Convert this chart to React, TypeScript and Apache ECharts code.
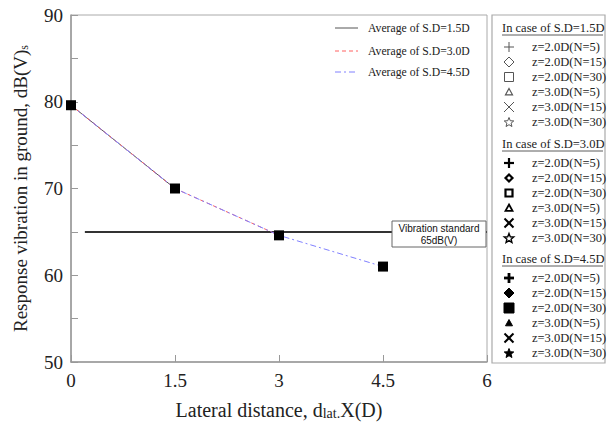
import React, { useEffect, useRef } from "react";
import * as echarts from "echarts";

const xValues = [0, 1.5, 3, 4.5];
const avg15 = [79.6, 70];
const avg30 = [79.6, 70, 64.6];
const avg45 = [79.6, 70, 64.6, 61];
const measured = [79.6, 70, 64.6, 61];
const standardLevel = 65;
const standardRange = [0.2, 6];
const seriesNames = ["Average of S.D=1.5D", "Average of S.D=3.0D", "Average of S.D=4.5D"];
const groupTitles = ["In case of S.D=1.5D", "In case of S.D=3.0D", "In case of S.D=4.5D"];
const caseLabels = ["z=2.0D(N=5)", "z=2.0D(N=15)", "z=2.0D(N=30)", "z=3.0D(N=5)", "z=3.0D(N=15)", "z=3.0D(N=30)"];
const xTicks = [0, 1.5, 3, 4.5, 6];
const yTicks = [50, 60, 70, 80, 90];

const SERIF = "'Liberation Serif', 'Times New Roman', serif";
const SANS = "'Liberation Sans', Arial, sans-serif";

function pairs(ys: number[]) {
  return ys.map((y, i) => [xValues[i], y]);
}

function starPts(cx: number, cy: number, R: number, r: number) {
  const pts: number[][] = [];
  for (let i = 0; i < 10; i++) {
    const a = -Math.PI / 2 + (i * Math.PI) / 5;
    const rad = i % 2 === 0 ? R : r;
    pts.push([cx + rad * Math.cos(a), cy + rad * Math.sin(a)]);
  }
  return pts;
}

function marker(kind: number, g: number, cx: number, cy: number): any[] {
  const col = g === 0 ? "#555" : "#000";
  const filled = g === 2;
  const lw = g === 0 ? 1 : g === 1 ? 2.2 : 2.8;
  const outline = { stroke: col, lineWidth: lw, fill: "none" };
  const solid = { fill: col, stroke: col, lineWidth: 1 };
  const st = filled ? solid : outline;
  switch (kind) {
    case 0: {
      const s = 5;
      return [
        { type: "line", shape: { x1: cx - s, y1: cy, x2: cx + s, y2: cy }, style: { stroke: col, lineWidth: lw } },
        { type: "line", shape: { x1: cx, y1: cy - s, x2: cx, y2: cy + s }, style: { stroke: col, lineWidth: lw } },
      ];
    }
    case 1: {
      const s = g === 0 ? 5 : g === 1 ? 3.5 : 5;
      return [{ type: "polygon", shape: { points: [[cx, cy - s], [cx + s, cy], [cx, cy + s], [cx - s, cy]] }, style: st }];
    }
    case 2: {
      const s = g === 0 ? 4.5 : g === 1 ? 3.5 : 5;
      return [{ type: "rect", shape: { x: cx - s, y: cy - s, width: 2 * s, height: 2 * s }, style: st }];
    }
    case 3: {
      const s = 3.5;
      return [{ type: "polygon", shape: { points: [[cx, cy - s], [cx + s, cy + s * 0.8], [cx - s, cy + s * 0.8]] }, style: filled ? solid : { stroke: col, lineWidth: g === 0 ? 1.2 : 1.8, fill: "none" } }];
    }
    case 4: {
      const s = g === 0 ? 5 : 4.5;
      return [
        { type: "line", shape: { x1: cx - s, y1: cy - s, x2: cx + s, y2: cy + s }, style: { stroke: col, lineWidth: g === 0 ? 1 : 2 } },
        { type: "line", shape: { x1: cx - s, y1: cy + s, x2: cx + s, y2: cy - s }, style: { stroke: col, lineWidth: g === 0 ? 1 : 2 } },
      ];
    }
    default: {
      return [{ type: "polygon", shape: { points: starPts(cx, cy + 0.5, 5, 2.2) }, style: filled ? solid : { stroke: col, lineWidth: g === 0 ? 1 : 1.4, fill: "none" } }];
    }
  }
}

function buildGraphics(): any[] {
  const els: any[] = [];
  // left legend
  const lx1 = 335, lx2 = 358, tx = 368;
  const ly = [28, 51, 72];
  const lineStyles = [
    { stroke: "#555", lineWidth: 1 },
    { stroke: "#ff6060", lineWidth: 1, lineDash: [4, 3] },
    { stroke: "#8080ff", lineWidth: 1, lineDash: [6, 3, 2, 3] },
  ];
  seriesNames.forEach((n, i) => {
    els.push({ type: "line", shape: { x1: lx1, y1: ly[i], x2: lx2, y2: ly[i] }, style: lineStyles[i] });
    els.push({ type: "text", x: tx, y: ly[i], style: { text: n, font: `11.7px ${SERIF}`, fill: "#222", verticalAlign: "middle" } });
  });
  // right legend box
  els.push({ type: "rect", shape: { x: 492, y: 15, width: 113, height: 348 }, style: { fill: "#fff", stroke: "#aaa", lineWidth: 1.2 } });
  const headerY = [28, 144, 259];
  groupTitles.forEach((t, g) => {
    els.push({ type: "text", x: 502, y: headerY[g], style: { text: t, font: `12.5px ${SERIF}`, fill: "#222", verticalAlign: "middle" } });
    els.push({ type: "line", shape: { x1: 502, y1: headerY[g] + 7, x2: 603, y2: headerY[g] + 7 }, style: { stroke: "#333", lineWidth: 0.8 } });
    caseLabels.forEach((c, k) => {
      const y = headerY[g] + 19 + 15 * k;
      marker(k, g, 509, y).forEach((e) => els.push(e));
      els.push({ type: "text", x: 532, y, style: { text: c, font: `12.5px ${SERIF}`, fill: "#222", verticalAlign: "middle" } });
    });
  });
  // vibration standard label box
  els.push({ type: "rect", z: 100, shape: { x: 392, y: 221, width: 94, height: 26 }, style: { fill: "#fff", stroke: "#666", lineWidth: 1 } });
  els.push({ type: "text", z: 101, x: 439, y: 228, style: { text: "Vibration standard", font: `10px ${SANS}`, fill: "#111", align: "center", verticalAlign: "middle" } });
  els.push({ type: "text", z: 101, x: 439, y: 240, style: { text: "65dB(V)", font: `10px ${SANS}`, fill: "#111", align: "center", verticalAlign: "middle" } });
  return els;
}

export default function App() {
  const ref = useRef<HTMLDivElement>(null);
  useEffect(() => {
    if (!ref.current) return;
    const chart = echarts.init(ref.current, null, { renderer: "svg" });
    chart.setOption({
      animation: false,
      backgroundColor: "#fff",
      grid: { left: 71, right: 124, top: 15, bottom: 61, show: true, borderColor: "#aaa", borderWidth: 1 },
      xAxis: {
        type: "value",
        min: 0,
        max: 6,
        interval: 1.5,
        name: "Lateral distance, d{sm|lat.}X(D)",
        nameLocation: "middle",
        nameGap: 38,
        nameTextStyle: {
          fontFamily: SERIF,
          fontSize: 20,
          color: "#222",
          rich: { sm: { fontFamily: SERIF, fontSize: 14, color: "#222", verticalAlign: "bottom", padding: [4, 0, 0, 0] } },
        },
        axisLine: { lineStyle: { color: "#999", width: 1.5 } },
        axisTick: { inside: true, length: 7, lineStyle: { color: "#999" } },
        splitLine: { show: false },
        axisLabel: {
          fontFamily: SERIF,
          fontSize: 19,
          color: "#222",
          margin: 9,
          formatter: (v: number) => (xTicks.includes(v) ? String(v) : ""),
        },
      },
      yAxis: {
        type: "value",
        min: 50,
        max: 90,
        interval: 5,
        name: "Response vibration in ground, dB(V){s|s}",
        nameLocation: "middle",
        nameGap: 41,
        nameTextStyle: {
          fontFamily: SERIF,
          fontSize: 19,
          color: "#222",
          rich: { s: { fontFamily: SERIF, fontSize: 12, color: "#222", verticalAlign: "bottom", padding: [6, 0, 0, 0] } },
        },
        axisLine: { show: true, lineStyle: { color: "#999", width: 1.5 } },
        axisTick: { show: true, inside: true, length: 7, lineStyle: { color: "#999" } },
        splitLine: { show: false },
        axisLabel: {
          fontFamily: SERIF,
          fontSize: 19,
          color: "#222",
          margin: 8,
          formatter: (v: number) => (yTicks.includes(v) ? String(v) : ""),
        },
      },
      series: [
        {
          name: "standard",
          type: "line",
          data: standardRange.map((x) => [x, standardLevel]),
          symbol: "none",
          lineStyle: { color: "#333", width: 2 },
          z: 1,
        },
        {
          name: seriesNames[0],
          type: "line",
          data: pairs(avg15),
          symbol: "none",
          lineStyle: { color: "#555", width: 1 },
          z: 2,
        },
        {
          name: seriesNames[1],
          type: "line",
          data: pairs(avg30),
          symbol: "none",
          lineStyle: { color: "#ff6060", width: 1, type: [4, 3] },
          z: 3,
        },
        {
          name: seriesNames[2],
          type: "line",
          data: pairs(avg45),
          symbol: "none",
          lineStyle: { color: "#8080ff", width: 1, type: [6, 3, 2, 3] },
          z: 4,
        },
        {
          name: "measured",
          type: "scatter",
          data: pairs(measured),
          symbol: "rect",
          symbolSize: 10,
          itemStyle: { color: "#000", opacity: 1 },
          z: 5,
        },
      ],
      graphic: buildGraphics(),
    });
    return () => chart.dispose();
  }, []);
  return <div ref={ref} style={{ position: "fixed", left: 0, top: 0, width: 611, height: 425 }} />;
}
